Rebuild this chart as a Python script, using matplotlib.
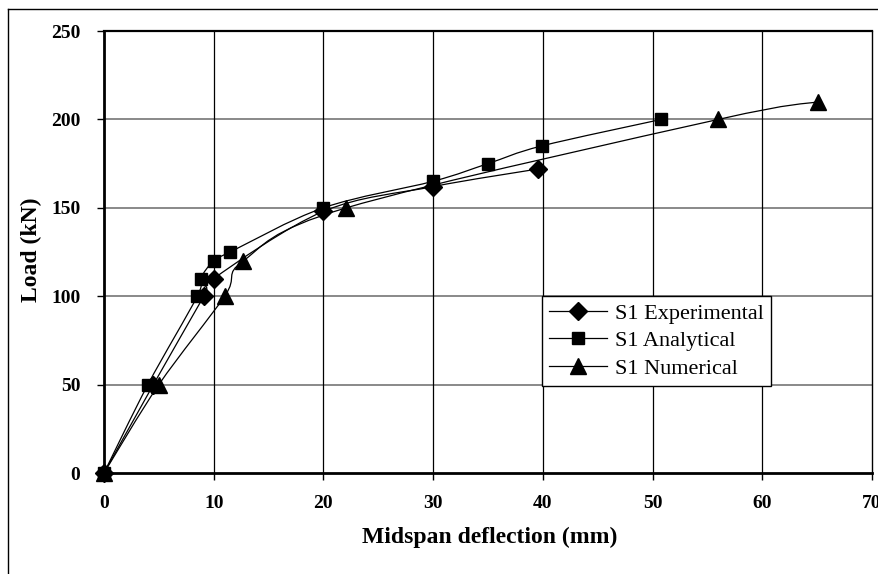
import matplotlib
matplotlib.use("Agg")
import matplotlib.pyplot as plt
import numpy as np
from matplotlib.path import Path
from matplotlib.patches import PathPatch
from matplotlib.lines import Line2D

# Load-deflection data for specimen S1
exp_defl = [0, 4.5, 9.1, 10.0, 20.0, 30.0, 39.6]
exp_load = [0, 50, 100, 110, 148, 162, 172]

ana_defl = [0, 4.0, 8.5, 8.8, 10.0, 11.5, 20.0, 30.0, 35.0, 39.9, 50.8]
ana_load = [0, 50, 100, 110, 120, 125, 150, 165, 175, 185, 200]

num_defl = [0, 5.0, 11.0, 12.7, 22.1, 56.0, 65.1]
num_load = [0, 50, 100, 120, 150, 200, 210]

labels = ["S1 Experimental", "S1 Analytical", "S1 Numerical"]
markers = ["D", "s", "^"]
x_ticks = [0, 10, 20, 30, 40, 50, 60, 70]
y_ticks = [0, 50, 100, 150, 200, 250]

W, H = 879, 574
fig = plt.figure(figsize=(W / 100, H / 100), dpi=100)
ax = fig.add_axes([104 / W, 1 - 473 / H, (872 - 104) / W, (473 - 31) / H])

serif = "Liberation Serif"


def smooth_path(xs, ys):
    """Cubic Bezier path through the points (Catmull-Rom style tangents)."""
    pts = np.column_stack([xs, ys]).astype(float)
    n = len(pts)
    verts = [pts[0]]
    codes = [Path.MOVETO]
    for i in range(n - 1):
        p0 = pts[i - 1] if i > 0 else pts[i]
        p1 = pts[i]
        p2 = pts[i + 1]
        p3 = pts[i + 2] if i + 2 < n else pts[i + 1]
        c1 = p1 + (p2 - p0) / 6.0
        c2 = p2 - (p3 - p1) / 6.0
        verts += [c1, c2, p2]
        codes += [Path.CURVE4] * 3
    return Path(verts, codes)


series = [(exp_defl, exp_load), (ana_defl, ana_load), (num_defl, num_load)]
msizes = [9, 9, 11]
for (xs, ys), m, ms in zip(series, markers, msizes):
    patch = PathPatch(smooth_path(xs, ys), facecolor="none", edgecolor="black",
                      lw=0.9, zorder=3)
    ax.add_patch(patch)
    ax.plot(xs, ys, linestyle="none", marker=m, markersize=ms,
            color="black", zorder=4, clip_on=False)

ax.set_xlim(0, 70)
ax.set_ylim(0, 250)
ax.set_xticks(x_ticks)
ax.set_yticks(y_ticks)
ax.set_xticklabels([str(v) for v in x_ticks])
ax.set_yticklabels([str(v) for v in y_ticks])

# Gridlines: horizontal grey, vertical black
for v in y_ticks[1:-1]:
    ax.axhline(v, color="#808080", lw=1.3, zorder=1)
for v in x_ticks[1:-1]:
    ax.axvline(v, color="black", lw=0.9, zorder=1)

for side in ["left", "bottom"]:
    ax.spines[side].set_linewidth(2.0)
ax.spines["top"].set_linewidth(1.6)
ax.spines["right"].set_linewidth(1.0)

ax.tick_params(axis="both", direction="out", length=5, width=1, color="black")
ax.tick_params(axis="y", pad=12)
ax.tick_params(axis="x", pad=11)
for lab in ax.get_xticklabels() + ax.get_yticklabels():
    lab.set_fontfamily(serif)
    lab.set_fontweight("bold")
    lab.set_fontsize(14)

fig.text(31 / W, 1 - 250 / H, "Load (kN)", rotation=90, ha="center", va="center",
         fontfamily=serif, fontweight="bold", fontsize=17)
fig.text(490 / W, 1 - 537 / H, "Midspan deflection (mm)", ha="center", va="center",
         fontfamily=serif, fontweight="bold", fontsize=17)

handles = [Line2D([], [], color="black", lw=0.9, marker=m, markersize=ms)
           for m, ms in zip(markers, msizes)]
leg = ax.legend(handles, labels, loc="upper left",
                bbox_to_anchor=((542 - 104) / 768, (473 - 296) / 442),
                borderaxespad=0, frameon=True, fancybox=False, framealpha=1,
                edgecolor="black", handlelength=2.6, handletextpad=0.35,
                labelspacing=0.31, borderpad=0.32,
                prop={"family": serif, "size": 16})
leg.get_frame().set_linewidth(1.0)
leg.set_zorder(5)

# Outer chart frame
fig.add_artist(Line2D([8 / W, 8 / W], [0, 1 - 9 / H], color="black", lw=1,
                      transform=fig.transFigure))
fig.add_artist(Line2D([8 / W, 1], [1 - 9 / H, 1 - 9 / H], color="black", lw=1,
                      transform=fig.transFigure))

fig.savefig("out.png", dpi=100)
